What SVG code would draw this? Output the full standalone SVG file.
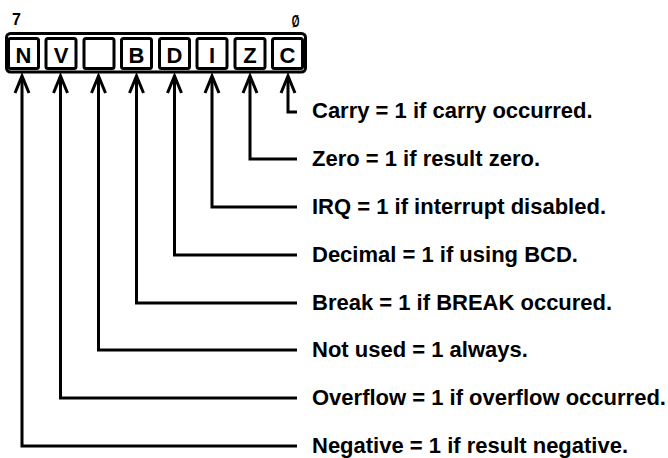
<svg xmlns="http://www.w3.org/2000/svg" width="668" height="458" viewBox="0 0 668 458">
  <style>
    .reg { fill: #fff; stroke: #000; stroke-width: 3; }
    .cell { fill: #fff; stroke: #000; stroke-width: 3; }
    .flag { font-family: "Liberation Sans", Arial, sans-serif; font-weight: bold; font-size: 22px; text-anchor: middle; fill: #000; }
    .bit { font-family: "Liberation Sans", Arial, sans-serif; font-weight: bold; font-size: 16px; text-anchor: middle; fill: #000; }
    .desc { font-family: "Liberation Sans", Arial, sans-serif; font-weight: bold; font-size: 22px; fill: #000; }
    .wire { fill: none; stroke: #000; stroke-width: 3; stroke-linejoin: miter; }
    .head { fill: none; stroke: #000; stroke-width: 3; stroke-linejoin: miter; }
  </style>
  <defs>
    <path id="arrowhead" class="head" d="M-7,17 L0,0 L7,17"/>
  </defs>
  <rect width="668" height="458" fill="#fff"/>

  <!-- status register -->
  <g id="register">
    <rect class="reg" x="6.5" y="33.5" width="299" height="38.5" rx="4"/>
    <text class="bit" x="16.5" y="25">7</text>
    <!-- slashed zero, narrowed to digit width -->
    <text class="bit" transform="translate(295.5,27) scale(0.62,1)">Ø</text>
  </g>

  <g id="bit-N"><rect class="cell" x="8.5" y="38.5" width="30" height="30" rx="2"/><text class="flag" x="23.5" y="63">N</text></g>
  <g id="bit-V"><rect class="cell" x="46" y="38.5" width="30" height="30" rx="2"/><text class="flag" x="61" y="63">V</text></g>
  <g id="bit-unused"><rect class="cell" x="84" y="38.5" width="30" height="30" rx="2"/></g>
  <g id="bit-B"><rect class="cell" x="121.5" y="38.5" width="30" height="30" rx="2"/><text class="flag" x="136.5" y="63">B</text></g>
  <g id="bit-D"><rect class="cell" x="159.5" y="38.5" width="30" height="30" rx="2"/><text class="flag" x="174.5" y="63">D</text></g>
  <g id="bit-I"><rect class="cell" x="197" y="38.5" width="30" height="30" rx="2"/><text class="flag" x="212" y="63">I</text></g>
  <g id="bit-Z"><rect class="cell" x="235" y="38.5" width="30" height="30" rx="2"/><text class="flag" x="250" y="63">Z</text></g>
  <g id="bit-C"><rect class="cell" x="272.5" y="38.5" width="30" height="30" rx="2"/><text class="flag" x="287.5" y="63">C</text></g>

  <!-- leader lines from each bit to its description -->
  <g id="connectors">
    <path class="wire" d="M288,77 V112 H297"/>
    <path class="wire" d="M250,77 V159 H297"/>
    <path class="wire" d="M212,77 V207 H297"/>
    <path class="wire" d="M174.5,77 V255 H297"/>
    <path class="wire" d="M136.5,77 V303 H297"/>
    <path class="wire" d="M98.5,77 V350 H297"/>
    <path class="wire" d="M60.5,77 V398 H297"/>
    <path class="wire" d="M22,77 V446 H297"/>
    <use href="#arrowhead" x="288" y="76"/>
    <use href="#arrowhead" x="250" y="76"/>
    <use href="#arrowhead" x="212" y="76"/>
    <use href="#arrowhead" x="174.5" y="76"/>
    <use href="#arrowhead" x="136.5" y="76"/>
    <use href="#arrowhead" x="98.5" y="76"/>
    <use href="#arrowhead" x="60.5" y="76"/>
    <use href="#arrowhead" x="22" y="76"/>
  </g>

  <!-- flag descriptions -->
  <g id="descriptions">
    <text class="desc" x="312" y="118">Carry = 1 if carry occurred.</text>
    <text class="desc" x="312" y="166">Zero = 1 if result zero.</text>
    <text class="desc" x="312" y="214">IRQ = 1 if interrupt disabled.</text>
    <text class="desc" x="312" y="262">Decimal = 1 if using BCD.</text>
    <text class="desc" x="312" y="310">Break = 1 if BREAK occured.</text>
    <text class="desc" x="312" y="357">Not used = 1 always.</text>
    <text class="desc" x="312" y="405">Overflow = 1 if overflow occurred.</text>
    <text class="desc" x="312" y="453">Negative = 1 if result negative.</text>
  </g>
</svg>
